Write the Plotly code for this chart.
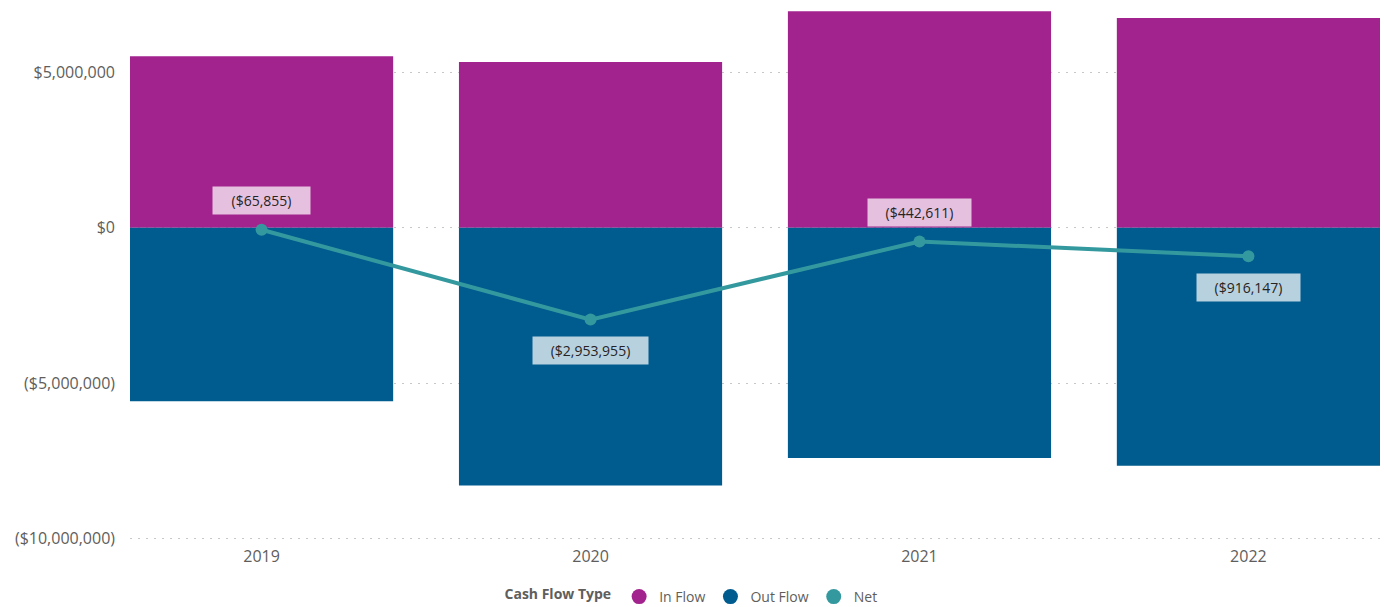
import plotly.graph_objects as go

years = ["2019", "2020", "2021", "2022"]
in_flow = [5510000, 5330000, 6960000, 6740000]
out_flow = [-5575855, -8283955, -7402611, -7656147]
net = [-65855, -2953955, -442611, -916147]
net_labels = ["($65,855)", "($2,953,955)", "($442,611)", "($916,147)"]
label_side = ["above", "below", "above", "below"]
y_ticks = [-10000000, -5000000, 0, 5000000]
y_tick_text = ["($10,000,000)", "($5,000,000)", "$0", "$5,000,000"]

C_IN = "#A3238E"
C_OUT = "#005B8E"
C_NET = "#34999F"
FONT = "Open Sans"
GREY = "#605E5C"

fig = go.Figure()
fig.add_trace(go.Bar(x=years, y=in_flow, name="In Flow", marker_color=C_IN,
                     marker_line_width=0, showlegend=False))
fig.add_trace(go.Bar(x=years, y=out_flow, name="Out Flow", marker_color=C_OUT,
                     marker_line_width=0, showlegend=False))
fig.add_trace(go.Scatter(x=years, y=net, name="Net", mode="lines+markers",
                         line=dict(color=C_NET, width=4),
                         marker=dict(color=C_NET, size=12), showlegend=False))

# legend entries (circle symbols)
for nm, col in [("In Flow", C_IN), ("Out Flow", C_OUT), ("Net", C_NET)]:
    fig.add_trace(go.Scatter(x=[years[0]], y=[None], mode="markers", name=nm,
                             marker=dict(color=col, size=15, symbol="circle")))

annotations = []
for i, (v, txt, side) in enumerate(zip(net, net_labels, label_side)):
    annotations.append(dict(
        x=i, y=v, xref="x", yref="y", text=txt, showarrow=False,
        yshift=29 if side == "above" else -31,
        bgcolor="rgba(255,255,255,0.72)", borderpad=4,
        width=len(txt) * 6 + 35, height=19,
        font=dict(family=FONT, size=14, color="#252423")))

fig.update_layout(
    width=1384, height=607,
    margin=dict(l=130, r=4, t=10, b=62),
    paper_bgcolor="white", plot_bgcolor="white",
    barmode="relative", bargap=0.2,
    font=dict(family=FONT, color=GREY),
    showlegend=True,
    annotations=annotations,
    legend=dict(orientation="h", x=0.45, xanchor="center",
                yref="container", y=0.0165, yanchor="middle",
                title=dict(text="<b>Cash Flow Type</b>", side="left",
                           font=dict(family=FONT, size=14, color=GREY)),
                font=dict(family=FONT, size=14, color=GREY),
                itemwidth=30, tracegroupgap=0),
    xaxis=dict(type="category", range=[-0.4, 3.4], showgrid=False, zeroline=False,
               showline=False,
               tickfont=dict(family=FONT, size=16, color=GREY), ticks=""),
    yaxis=dict(range=[-10200000, 7000000], tickvals=y_ticks, ticktext=y_tick_text,
               showgrid=True, gridcolor="#C8C8C8", griddash="2px,6px", gridwidth=1,
               zeroline=False, showline=False, ticks="",
               ticklabelstandoff=14,
               tickfont=dict(family=FONT, size=16, color=GREY)),
)

fig.write_html("out.html")
